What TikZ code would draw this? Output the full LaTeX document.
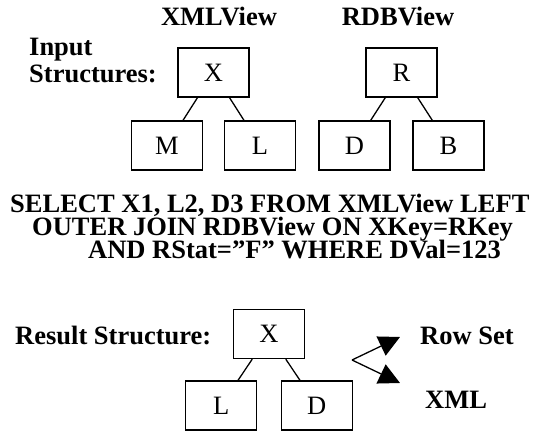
\documentclass[tikz,border=0pt]{standalone}
\usepackage{fontspec}
\setmainfont{Liberation Serif}
\usetikzlibrary{arrows.meta}

\begin{document}
\fontsize{26.5}{30}\selectfont
\begin{tikzpicture}[x=1pt,y=-1pt]
\tikzstyle{box}=[rectangle,draw,line width=1.3pt,minimum width=71pt,minimum height=49pt,inner sep=0pt]
\tikzstyle{lbl}=[anchor=base west,inner sep=0pt,font=\bfseries]
\tikzstyle{edge from parent}=[draw,line width=1.3pt]
\tikzstyle{fork}=[draw,line width=1.3pt,-{Triangle[length=21pt,width=21pt]}]
\useasboundingbox (0,0) rectangle (539,431);
% input structures
\node[lbl,anchor=base] (xmlview) at (219,25) {XMLView};
\node[lbl,anchor=base] (rdbview) at (398,25) {RDBView};
\node[lbl] (input) at (29,56) {Input};
\node[lbl] (structures) at (29,82) {Structures:};
\node[box] (x) at (213.5,72.5) {X} [level distance=73pt,sibling distance=93pt]
  child{node[box] (m) {M}}
  child{node[box] (l) {L}}
;
\node[box] (r) at (401.5,72.5) {R} [level distance=73pt,sibling distance=94pt]
  child{node[box] (d) {D}}
  child{node[box] (b) {B}}
;
% query
\node[lbl] (sql1) at (10,212) {SELECT X1, L2, D3 FROM XMLView LEFT};
\node[lbl] (sql2) at (32,235) {OUTER JOIN RDBView ON XKey=RKey};
\node[lbl] (sql3) at (88,258) {AND RStat=”F” WHERE DVal=123};
% result
\node[lbl] (result) at (15,344) {Result Structure:};
\node[box] (rx) at (269,334) {X} [level distance=71.5pt,sibling distance=95.5pt]
  child{node[box] (rl) {L}}
  child{node[box] (rd) {D}}
;
\coordinate (split) at (352,360);
\coordinate (rowtip) at (400,337);
\coordinate (xmltip) at (400,383);
\draw[fork] (split) -- (rowtip);
\draw[fork] (split) -- (xmltip);
\node[lbl] (rowset) at (420,344) {Row Set};
\node[lbl] (xml) at (425,408) {XML};
\end{tikzpicture}
\end{document}
